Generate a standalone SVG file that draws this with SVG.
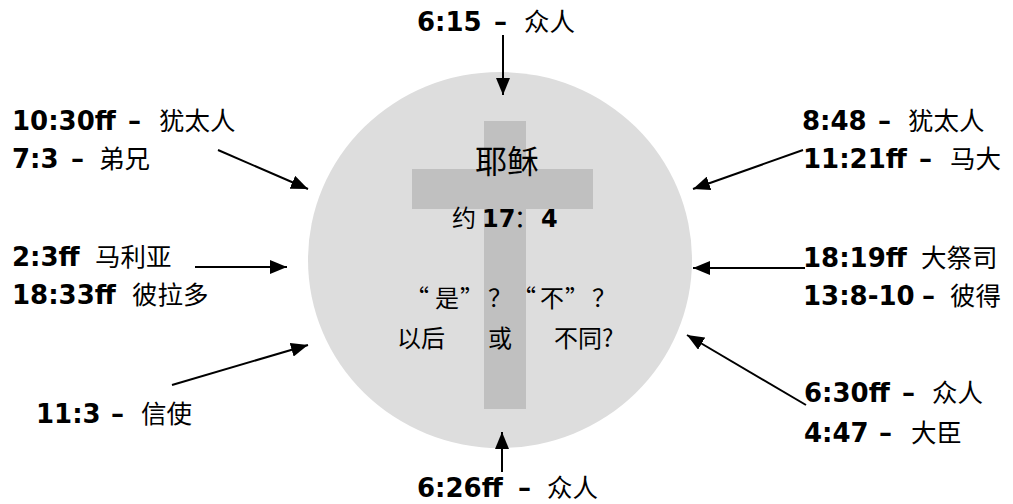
<svg xmlns="http://www.w3.org/2000/svg" width="1013" height="504" viewBox="0 0 1013 504">
<defs>
<style>
.n{font-family:"DejaVu Sans",Verdana,sans-serif;font-weight:bold;font-size:26px;fill:#000}
.c{font-family:"Noto Sans CJK SC","Noto Sans",sans-serif;font-weight:normal;font-size:25.5px;fill:#000}
.m{font-family:"Noto Sans CJK SC","Noto Sans",sans-serif;font-weight:normal;font-size:24px;fill:#000}
.mb{font-family:"DejaVu Sans",Verdana,sans-serif;font-weight:bold;font-size:24px;fill:#000}
.a{stroke:#000;stroke-width:2;fill:none;marker-end:url(#ah)}
</style>
<marker id="ah" markerUnits="userSpaceOnUse" markerWidth="18" markerHeight="14" refX="17" refY="7" orient="auto">
<path d="M0,0 L17,7 L0,14 z" fill="#000"/>
</marker>
</defs>
<rect width="1013" height="504" fill="#fff"/>
<g id="center">
<ellipse cx="500" cy="260" rx="192" ry="188" fill="#dddddd"/>
<rect x="484" y="121" width="42" height="288" fill="#c0c0c0"/>
<rect x="412" y="169" width="181" height="40" fill="#c0c0c0"/>
<text class="m" x="507" y="173" text-anchor="middle" style="font-size:32px">耶稣</text>
<text y="227"><tspan class="m" x="452">约</tspan><tspan class="mb" x="482">17</tspan><tspan class="m" x="514">：</tspan><tspan class="mb" x="541">4</tspan></text>
<text class="m" x="405 435 460 488 512 540 565 592" y="307">“是”？“不”？</text>
<text y="347"><tspan class="m" x="397">以后</tspan><tspan class="m" x="488">或</tspan><tspan class="m" x="554">不同?</tspan></text>
</g>
<g id="connectors">
<line class="a" x1="503" y1="35" x2="503" y2="95"/>
<line class="a" x1="502" y1="472" x2="502" y2="432"/>
<line class="a" x1="218" y1="150" x2="308" y2="189"/>
<line class="a" x1="195" y1="267" x2="287" y2="267"/>
<line class="a" x1="172" y1="385" x2="308" y2="345"/>
<line class="a" x1="803" y1="150" x2="693" y2="189"/>
<line class="a" x1="805" y1="268" x2="693" y2="268"/>
<line class="a" x1="806" y1="405" x2="687" y2="335"/>
</g>
<g id="top"><text y="31"><tspan class="n" x="417">6:15</tspan><tspan class="n" x="494">–</tspan><tspan class="c" x="524">众人</tspan></text></g>
<g id="bottom"><text y="497"><tspan class="n" x="417">6:26ff</tspan><tspan class="n" x="518">–</tspan><tspan class="c" x="547">众人</tspan></text></g>
<g id="left1">
<text y="130"><tspan class="n" x="12">10:30ff</tspan><tspan class="n" x="128">–</tspan><tspan class="c" x="159">犹太人</tspan></text>
<text y="168"><tspan class="n" x="12">7:3</tspan><tspan class="n" x="71">–</tspan><tspan class="c" x="99">弟兄</tspan></text>
</g>
<g id="left2">
<text y="266"><tspan class="n" x="12">2:3ff</tspan><tspan class="c" x="95">马利亚</tspan></text>
<text y="304"><tspan class="n" x="12">18:33ff</tspan><tspan class="c" x="132">彼拉多</tspan></text>
</g>
<g id="left3">
<text y="423"><tspan class="n" x="36">11:3</tspan><tspan class="n" x="111">–</tspan><tspan class="c" x="141">信使</tspan></text>
</g>
<g id="right1">
<text y="130"><tspan class="n" x="802">8:48</tspan><tspan class="n" x="878">–</tspan><tspan class="c" x="908">犹太人</tspan></text>
<text y="168"><tspan class="n" x="803">11:21ff</tspan><tspan class="n" x="919">–</tspan><tspan class="c" x="950">马大</tspan></text>
</g>
<g id="right2">
<text y="267"><tspan class="n" x="803">18:19ff</tspan><tspan class="c" x="921">大祭司</tspan></text>
<text y="305"><tspan class="n" x="803">13:8-10</tspan><tspan class="n" x="922">–</tspan><tspan class="c" x="950">彼得</tspan></text>
</g>
<g id="right3">
<text y="402"><tspan class="n" x="804">6:30ff</tspan><tspan class="n" x="902">–</tspan><tspan class="c" x="932">众人</tspan></text>
<text y="442"><tspan class="n" x="804">4:47</tspan><tspan class="n" x="879">–</tspan><tspan class="c" x="911">大臣</tspan></text>
</g>
</svg>
